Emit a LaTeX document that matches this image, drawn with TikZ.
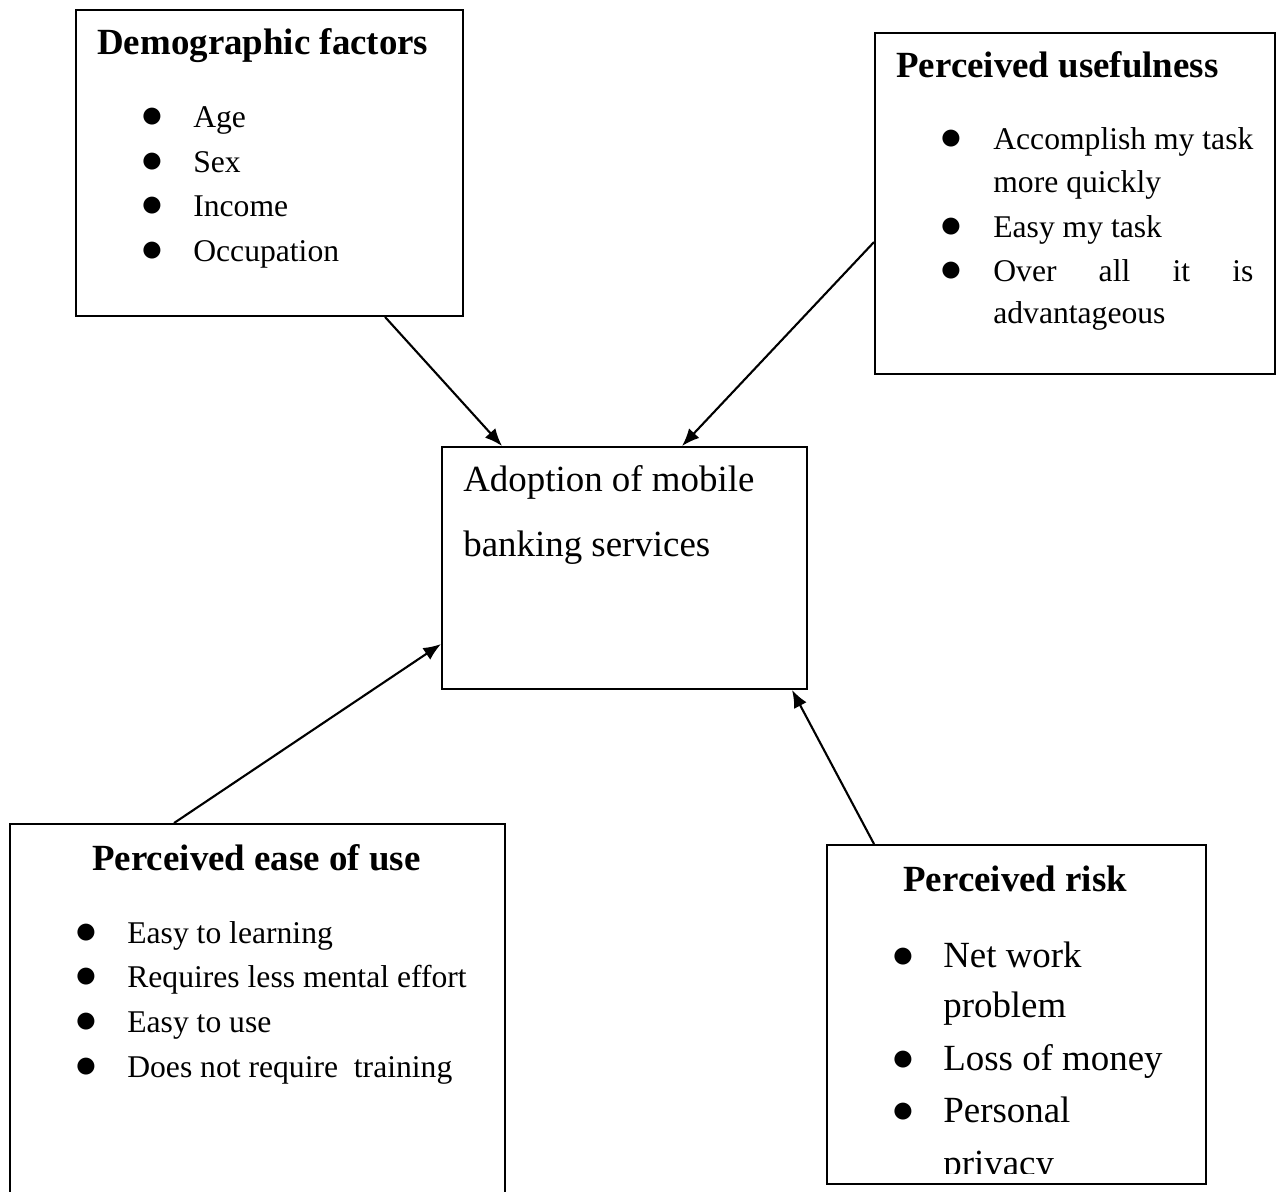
\documentclass[tikz,border=0pt]{standalone}
\usepackage{fontspec}
\setmainfont{Liberation Serif}
\usetikzlibrary{arrows.meta}
\usetikzlibrary{fit}
\usetikzlibrary{calc}

\begin{document}
\begin{tikzpicture}[x=0.02cm,y=-0.02cm,line join=miter,
  box/.style={draw,line width=1.1pt,inner sep=0pt},
  head/.style={anchor=base west,inner sep=0pt,font=\fontsize{21}{25}\selectfont\bfseries},
  txt/.style={anchor=base west,inner sep=0pt,font=\fontsize{18}{25}\selectfont},
  bigtxt/.style={anchor=base west,inner sep=0pt,font=\fontsize{21}{30}\selectfont},
  bul/.style={anchor=base,inner sep=0pt,font=\fontsize{23}{25}\selectfont},
  bigbul/.style={anchor=base,inner sep=0pt,font=\fontsize{25}{30}\selectfont},
  arr/.style={-{Latex[length=10pt,width=8pt]},line width=1.2pt}]
\useasboundingbox (0,0) rectangle (1282,1192);

% boxes
\node[box,fit={(76,10) (463,316)}] (demo) {};
\node[box,fit={(875,33) (1275,374)}] (useful) {};
\node[box,fit={(442,447) (807,689)}] (adopt) {};
\node[box,fit={(10,824) (505,1215)}] (ease) {};
\node[box,fit={(827,845) (1206,1184)}] (risk) {};

% demographic factors
\node[head] (demoT) at (97,55) {Demographic factors};
\foreach \y/\t [count=\i] in {128/Age,172.5/Sex,217/Income,261.5/Occupation}{
  \node[bul] (demoB\i) at (152,\y) {$\bullet$};
  \node[txt] (demo\i) at (193,\y) {\t};
}

% perceived usefulness
\node[head] (usefulT) at (896,78) {Perceived usefulness};
\node[bul] (usefulB1) at (951,150) {$\bullet$};
\node[txt] (useful1) at (993,150) {Accomplish my task};
\node[txt] (useful1b) at (993,193) {more quickly};
\node[bul] (usefulB2) at (951,238) {$\bullet$};
\node[txt] (useful2) at (993,238) {Easy my task};
\node[bul] (usefulB3) at (951,282) {$\bullet$};
\node[txt] (useful3) at (993,282) {\makebox[148pt][s]{Over all it is}};
\node[txt] (useful3b) at (993,324) {advantageous};

% adoption
\node[bigtxt] (adopt1) at (463,492) {Adoption of mobile};
\node[bigtxt] (adopt2) at (463,557) {banking services};

% perceived ease of use
\node[head] (easeT) at (92,870) {Perceived ease of use};
\foreach \y/\t [count=\i] in {943/Easy to learning,987/Requires less mental effort,1032/Easy to use,1077/Does not require\ \ training}{
  \node[bul] (easeB\i) at (86,\y) {$\bullet$};
  \node[txt] (ease\i) at (127,\y) {\t};
}

% perceived risk
\node[head] (riskT) at (903,891) {Perceived risk};
\node[bigbul] (riskB1) at (903,967) {$\bullet$};
\node[bigtxt] (risk1) at (943,967) {Net work};
\node[bigtxt] (risk1b) at (943,1017) {problem};
\node[bigbul] (riskB2) at (903,1070) {$\bullet$};
\node[bigtxt] (risk2) at (943,1070) {Loss of money};
\node[bigbul] (riskB3) at (903,1122) {$\bullet$};
\node[bigtxt] (risk3) at (943,1122) {Personal};
\begin{scope}
\clip (827,845) rectangle (1206,1173);
\node[bigtxt] (risk3b) at (943,1175) {privacy};
\end{scope}

% arrows
\draw[arr] ($(demo.south west)+(310,0)$) -- ($(adopt.north west)+(61,0)$);
\draw[arr] ($(useful.north west)+(0,210)$) -- ($(adopt.north west)+(241,0)$);
\draw[arr] ($(ease.north west)+(165,0)$) -- ($(adopt.north west)+(0,198)$);
\draw[arr] ($(risk.north west)+(48,0)$) -- ($(adopt.south west)+(351,0)$);
\end{tikzpicture}
\end{document}
